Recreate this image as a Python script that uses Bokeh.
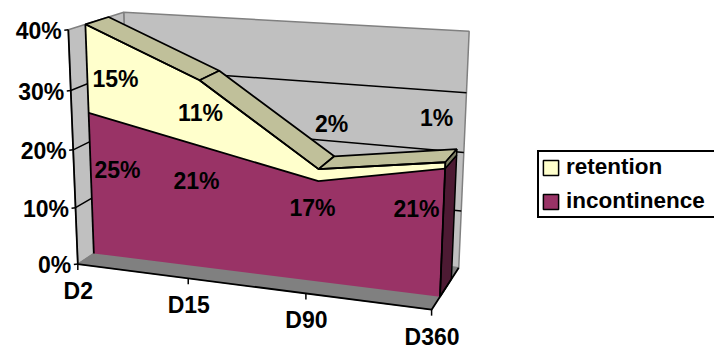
import numpy as np
from bokeh.core.properties import value
from bokeh.embed import file_html
from bokeh.models import Legend, LegendItem
from bokeh.plotting import figure
from bokeh.resources import INLINE

# Chart data
categories = ["D2", "D15", "D90", "D360"]
retention = [15, 11, 2, 1]
incontinence = [25, 21, 17, 21]
percent_ticks = [0, 10, 20, 30, 40]

FONT = value("Liberation Sans")
SIZE = "23px"
WALL = "#C0C0C0"
FLOOR = "#808080"
CREAM = "#FFFFCC"
PLUM = "#993366"
OLIVE = "#C0C09A"
OLIVE_SIDE = "#808066"
PLUM_SIDE = "#4D1A33"

# Perspective camera of the 3-D box, solved from canvas positions of its
# reference points: (category index, percent, depth) -> (px, py).
anchors = [
    ((0, 0, 0), (78, 263)), ((1, 0, 0), (188, 278)), ((2, 0, 0), (305, 295)),
    ((3, 0, 0), (431, 308)), ((3, 0, 1), (458, 268)), ((3, 40, 1), (469, 32)),
    ((0, 40, 1), (123, 12)), ((0, 40, 0), (68, 29)), ((0, 20, 0), (72, 149)),
    ((3, 20, 1), (463.5, 150)),
]


def solve_camera(pairs):
    rows = []
    for (a, b, c), (u, v) in pairs:
        w = [a, b / 10, c, 1]
        rows.append(w + [0, 0, 0, 0] + [-u * t for t in w])
        rows.append([0, 0, 0, 0] + w + [-v * t for t in w])
    return np.linalg.svd(np.array(rows, float))[2][-1].reshape(3, 4)


CAM = solve_camera(anchors)


def project(i, v, d):
    q = CAM @ np.array([i, v / 10, d, 1.0])
    return q[0] / q[2], q[1] / q[2]


def poly(points):
    xy = [project(*pt) for pt in points]
    return [a for a, _ in xy], [b for _, b in xy]


p = figure(width=714, height=349, x_range=(0, 714), y_range=(349, 0),
           x_axis_type=None, y_axis_type=None, toolbar_location=None,
           output_backend="svg", min_border=0, outline_line_color=None,
           background_fill_color="white", border_fill_color="white")
p.grid.visible = False

FRONT, BACK = 0.29, 0.71
last = len(categories) - 1
totals = [a + b for a, b in zip(incontinence, retention)]
idx = range(len(categories))

# Walls and floor
xs, ys = poly([(0, 0, 1), (last, 0, 1), (last, 40, 1), (0, 40, 1)])
p.patch(xs, ys, fill_color=WALL, line_color=FLOOR, line_width=1.5)
xs, ys = poly([(0, 0, 0), (0, 0, 1), (0, 40, 1), (0, 40, 0)])
p.patch(xs, ys, fill_color=WALL, line_color=FLOOR, line_width=1.5)
xs, ys = poly([(0, 0, 0), (last, 0, 0), (last, 0, 1), (0, 0, 1)])
p.patch(xs, ys, fill_color=FLOOR, line_color=FLOOR, line_width=1)

# Gridlines run along the left wall and across the back wall
for t in percent_ticks[1:-1]:
    xs, ys = poly([(0, t, 0), (0, t, 1), (last, t, 1)])
    p.line(xs, ys, line_color="black", line_width=1.5)

# Area fronts
lower = [(i, incontinence[i], FRONT) for i in idx]
upper = [(i, totals[i], FRONT) for i in idx]
xs, ys = poly(lower + [(last, 0, FRONT), (0, 0, FRONT)])
p.patch(xs, ys, fill_color=PLUM, line_color=None)
xs, ys = poly(upper + lower[::-1])
p.patch(xs, ys, fill_color=CREAM, line_color=None)

# Sloping top surfaces of the upper series
for i in range(last):
    xs, ys = poly([(i, totals[i], FRONT), (i + 1, totals[i + 1], FRONT),
                   (i + 1, totals[i + 1], BACK), (i, totals[i], BACK)])
    p.patch(xs, ys, fill_color=OLIVE, line_color="black", line_width=1.8)

# End faces of both series at the last category
xs, ys = poly([(last, 0, FRONT), (last, incontinence[last], FRONT),
               (last, incontinence[last], BACK), (last, 0, BACK)])
p.patch(xs, ys, fill_color=PLUM_SIDE, line_color="black", line_width=1.5)
xs, ys = poly([(last, incontinence[last], FRONT), (last, totals[last], FRONT),
               (last, totals[last], BACK), (last, incontinence[last], BACK)])
p.patch(xs, ys, fill_color=OLIVE_SIDE, line_color="black", line_width=1.5)

# Outlines of the fronts
for path in ([(0, 0, FRONT), (0, totals[0], FRONT)], lower, upper,
             [(last, 0, FRONT), (last, totals[last], FRONT)]):
    xs, ys = poly(path)
    p.line(xs, ys, line_color="black", line_width=1.8)

# Axes with their ticks
xs, ys = poly([(0, 40, 0), (0, 0, 0), (last, 0, 0), (last, 0, 1)])
p.line(xs, ys, line_color="black", line_width=1.8)
for t in percent_ticks:
    x0, y0 = project(0, t, 0)
    p.line([x0 - 4, x0], [y0 + 0.5, y0], line_color="black", line_width=1.5)
    p.text([x0 - 6.5], [y0 + 1], text=[f"{t}%"], text_font=FONT, text_font_size=SIZE,
           text_font_style="bold", text_align="right", text_baseline="middle",
           text_color="black")
for i, name in enumerate(categories):
    x0, y0 = project(i, 0, 0)
    p.line([x0, x0], [y0, y0 + 6], line_color="black", line_width=1.5)
    p.text([x0 + 0.5], [y0 + 27], text=[name], text_font=FONT, text_font_size=SIZE,
           text_font_style="bold", text_align="center", text_baseline="middle",
           text_color="black")

# Value labels, series by series
retention_spots = [(115, 78), (200, 112), (331, 123), (436, 117)]
incontinence_spots = [(117, 169), (196, 180), (312, 207), (416, 208)]
for spots, vals in ((retention_spots, retention), (incontinence_spots, incontinence)):
    p.text([s[0] for s in spots], [s[1] for s in spots], text=[f"{v}%" for v in vals],
           text_font=FONT, text_font_size=SIZE, text_font_style="bold",
           text_align="center", text_baseline="middle", text_color="black")

# Legend keys use patches parked off the canvas so that only the keys carry an outline
key_retention = p.patch([-30, -20, -20], [-30, -30, -20], fill_color=CREAM,
                        line_color="black", line_width=1.5)
key_incontinence = p.patch([-30, -20, -20], [-30, -30, -20], fill_color=PLUM,
                           line_color="black", line_width=1.5)
legend = Legend(
    items=[LegendItem(label="retention", renderers=[key_retention]),
           LegendItem(label="incontinence", renderers=[key_incontinence])],
    location=(537, 131), orientation="vertical", border_line_color="black",
    border_line_alpha=1, border_line_width=2, background_fill_color="white",
    background_fill_alpha=1, label_text_font="Liberation Sans",
    label_text_font_size="22.5px", label_text_font_style="bold",
    label_text_color="black", glyph_width=19, glyph_height=19, label_standoff=6,
    padding=2, spacing=8, label_width=149, margin=0,
)
p.add_layout(legend, "center")

open("out.html", "w").write(file_html(p, INLINE))
